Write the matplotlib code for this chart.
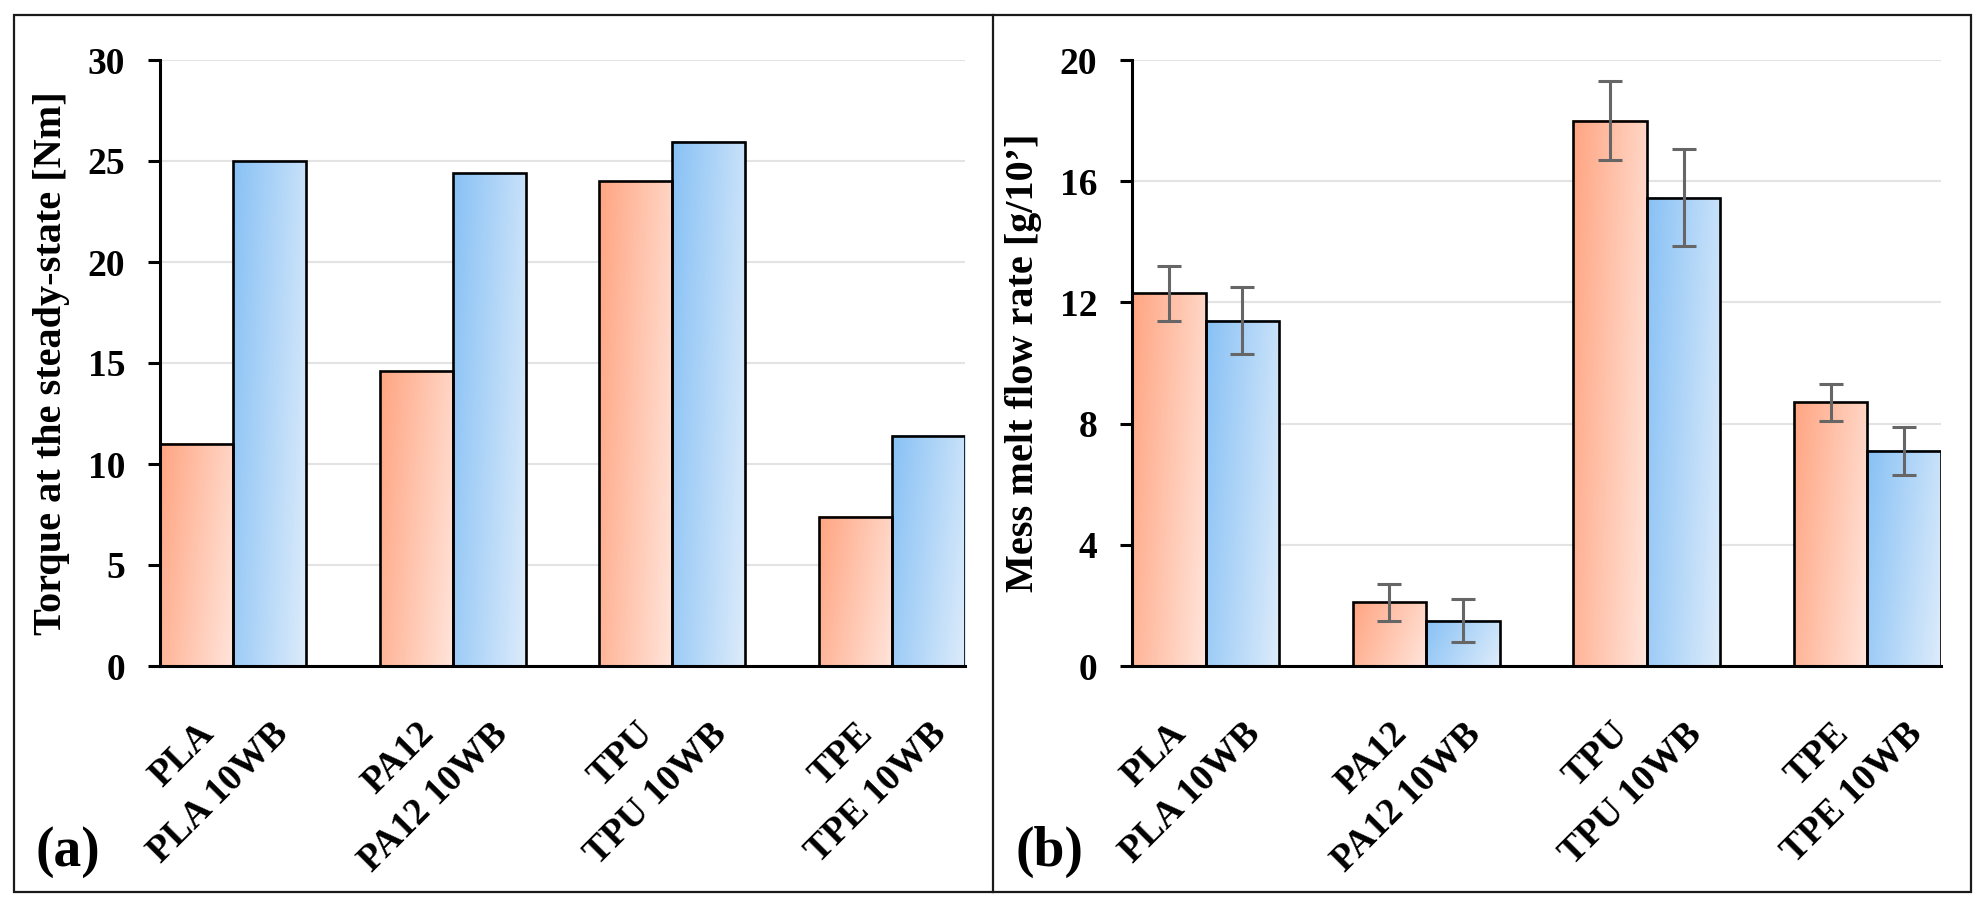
import matplotlib
matplotlib.use("Agg")
import matplotlib.pyplot as plt
import numpy as np
from matplotlib.colors import LinearSegmentedColormap
from matplotlib.patches import Rectangle
from matplotlib.lines import Line2D

plt.rcParams['font.family'] = ['Liberation Serif', 'DejaVu Serif']
plt.rcParams['font.weight'] = 'bold'

# data
materials = ["PLA", "PA12", "TPU", "TPE"]
labels_base = ["PLA", "PA12", "TPU", "TPE"]
labels_wb = ["PLA 10WB", "PA12 10WB", "TPU 10WB", "TPE 10WB"]

torque_base = [11.0, 14.6, 24.0, 7.4]
torque_wb = [25.0, 24.4, 25.95, 11.4]

mfr_base = [12.3, 2.1, 18.0, 8.7]
mfr_wb = [11.4, 1.5, 15.45, 7.1]
mfr_base_err = [0.9, 0.6, 1.3, 0.6]
mfr_wb_err = [1.1, 0.72, 1.6, 0.8]

orange_cmap = LinearSegmentedColormap.from_list("og", ["#FFA582", "#FFE5DB"])
blue_cmap = LinearSegmentedColormap.from_list("bl", ["#88C1F5", "#DDECFB"])

W, H = 1984, 906
fig = plt.figure(figsize=(W / 100, H / 100), dpi=100)


def grad_bar(ax, x, h, w, cmap):
    # gradient fill: darker top-left, lighter bottom-right
    u = np.linspace(0, 1, 64)
    v = np.linspace(0, 1, 256)
    U, V = np.meshgrid(u, v)
    T = 0.75 * U + 0.25 * (1 - V)
    ax.imshow(T, cmap=cmap, extent=[x - w / 2, x + w / 2, 0, h], origin='lower',
              aspect='auto', vmin=0, vmax=1, zorder=2, interpolation='bilinear')
    ax.bar(x, h, w, facecolor='none', edgecolor='black', linewidth=1.9, zorder=3)


def panel(rect, base, wb, ymax, ystep, ylabel, ylab_x, tag, tag_x, base_err=None, wb_err=None):
    ax = fig.add_axes(rect)
    w = 1 / 3
    xs = np.arange(len(materials))
    xb = xs - w / 2
    xw = xs + w / 2
    for i in range(len(materials)):
        grad_bar(ax, xb[i], base[i], w, orange_cmap)
        grad_bar(ax, xw[i], wb[i], w, blue_cmap)
    if base_err is not None:
        ax.errorbar(xb, base, yerr=base_err, fmt='none', ecolor='#666666',
                    elinewidth=2.2, capsize=8.5, capthick=2.2, zorder=4)
        ax.errorbar(xw, wb, yerr=wb_err, fmt='none', ecolor='#666666',
                    elinewidth=2.2, capsize=8.5, capthick=2.2, zorder=4)
    ax.set_xlim(-w, len(materials) - 1 + w)
    ax.set_ylim(0, ymax)
    ax.set_yticks(np.arange(0, ymax + 0.1, ystep))
    ticks = np.concatenate([xb, xw])
    labs = labels_base + labels_wb
    order = np.argsort(ticks)
    ax.set_xticks(ticks[order])
    ax.set_xticklabels([labs[k] for k in order], rotation=45, ha='right',
                       rotation_mode='anchor', fontsize=27, fontweight='bold')
    ax.tick_params(axis='x', length=0, pad=36)
    ax.tick_params(axis='y', length=9, width=2.2, direction='out', pad=16, labelsize=27)
    for s in ['top', 'right']:
        ax.spines[s].set_visible(False)
    for s in ['left', 'bottom']:
        ax.spines[s].set_linewidth(2.2)
    ax.yaxis.grid(True, color='#E3E3E3', linewidth=1.5)
    ax.set_axisbelow(True)
    fig.text(ylab_x, (rect[1] + rect[1] + rect[3]) / 2, ylabel, rotation=90,
             ha='center', va='center', fontsize=29, fontweight='bold')
    fig.text(tag_x, (H - 852) / H, tag, ha='left', va='center', fontsize=40, fontweight='bold')
    return ax


bot = (H - 666) / H
top = (H - 60) / H
panel([160 / W, bot, (965 - 160) / W, top - bot], torque_base, torque_wb, 30, 5,
      "Torque at the steady-state [Nm]", 52 / W, "(a)", 36 / W)
panel([1132 / W, bot, (1941 - 1132) / W, top - bot], mfr_base, mfr_wb, 20, 4,
      "Mess melt flow rate [g/10\u2019]", 1023 / W, "(b)", 1016 / W, mfr_base_err, mfr_wb_err)

# outer frame and divider
fig.add_artist(Rectangle((14 / W, (H - 892) / H), (1971 - 14) / W, (892 - 15) / H,
                         transform=fig.transFigure, fill=False, linewidth=1.6, edgecolor='#1a1a1a'))
fig.add_artist(Line2D([993 / W, 993 / W], [(H - 892) / H, (H - 15) / H],
                      transform=fig.transFigure, linewidth=1.6, color='#1a1a1a'))

fig.savefig("out.png", dpi=100)
